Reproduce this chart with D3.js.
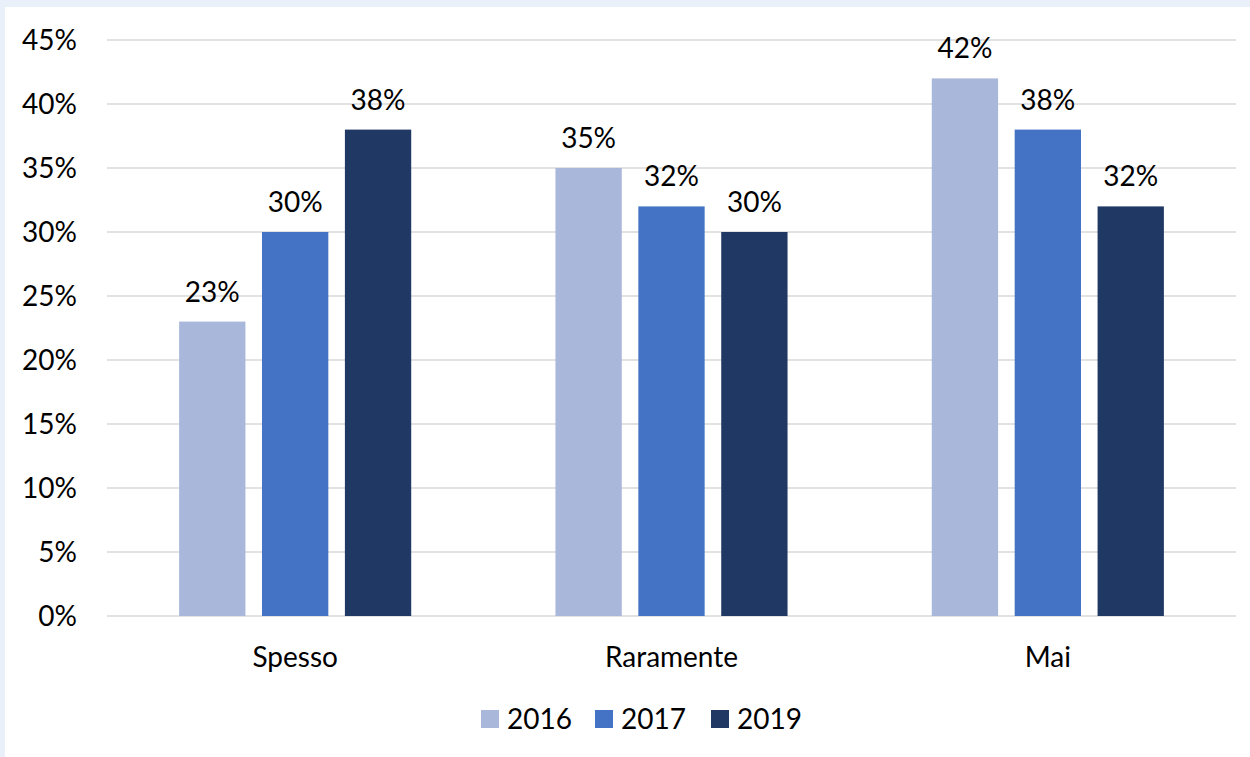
<!DOCTYPE html>
<meta charset="utf-8">
<script src="https://d3js.org/d3.v7.min.js"></script>
<style>
body { margin: 0; padding: 0; background: #e9f0fa; }
text { font-family: Lato, 'Open Sans', sans-serif; fill: #000; }
</style>
<body>
<div id="my_dataviz"></div>
<script>
// data
var categories = ["Spesso", "Raramente", "Mai"];
var years = ["2016", "2017", "2019"];
var values2016 = [23, 35, 42];
var values2017 = [30, 32, 38];
var values2019 = [38, 30, 32];
var yTicks = [0, 5, 10, 15, 20, 25, 30, 35, 40, 45];
var colors = ["#a9b7da", "#4472c4", "#203864"];

var series = [values2016, values2017, values2019];

var W = 1250, H = 757;
var fontSize = "28px";
var svg = d3.select("#my_dataviz")
  .append("svg")
    .attr("width", W)
    .attr("height", H)
    .style("display", "block");

// white chart panel, leaving the light blue edge at top/left
svg.append("rect")
  .attr("x", 5).attr("y", 7)
  .attr("width", W - 5).attr("height", H - 7)
  .attr("fill", "#fff");

var plotLeft = 107, plotRight = 1236, plotTop = 40, plotBottom = 616;

var x = d3.scaleBand()
  .domain(categories)
  .range([plotLeft, plotRight])
  .paddingInner(0)
  .paddingOuter(0);

var xSub = d3.scaleBand()
  .domain(years)
  .range([0, x.bandwidth()])
  .paddingInner(0.2)
  .paddingOuter(0.87);

var y = d3.scaleLinear()
  .domain([0, 45])
  .range([plotBottom, plotTop]);

// gridlines
svg.append("g")
  .selectAll("line")
  .data(yTicks)
  .enter()
  .append("line")
    .attr("x1", plotLeft)
    .attr("x2", plotRight)
    .attr("y1", function(d){ return y(d); })
    .attr("y2", function(d){ return y(d); })
    .attr("stroke", "#d9d9d9")
    .attr("stroke-width", 1.5);

// y tick labels
svg.append("g")
  .selectAll("text")
  .data(yTicks)
  .enter()
  .append("text")
    .attr("x", 77)
    .attr("y", function(d){ return y(d); })
    .attr("dy", "0.35em")
    .attr("text-anchor", "end")
    .style("font-size", fontSize)
    .text(function(d){ return d + "%"; });

// bars
years.forEach(function(yr, i) {
  var g = svg.append("g");
  g.selectAll("rect")
    .data(series[i])
    .enter()
    .append("rect")
      .attr("x", function(d, j){ return x(categories[j]) + xSub(yr); })
      .attr("y", function(d){ return y(d); })
      .attr("width", xSub.bandwidth())
      .attr("height", function(d){ return y(0) - y(d); })
      .attr("fill", colors[i]);
  g.selectAll("text")
    .data(series[i])
    .enter()
    .append("text")
      .attr("x", function(d, j){ return x(categories[j]) + xSub(yr) + xSub.bandwidth() / 2; })
      .attr("y", function(d){ return y(d) - 20; })
      .attr("text-anchor", "middle")
      .style("font-size", fontSize)
      .text(function(d){ return d + "%"; });
});

// category labels
svg.append("g")
  .selectAll("text")
  .data(categories)
  .enter()
  .append("text")
    .attr("x", function(d){ return x(d) + x.bandwidth() / 2; })
    .attr("y", 667)
    .attr("text-anchor", "middle")
    .style("font-size", fontSize)
    .text(function(d){ return d; });

// legend
var legendX = [481, 595, 711];
var legend = svg.append("g");
years.forEach(function(yr, i) {
  legend.append("rect")
    .attr("x", legendX[i]).attr("y", 710)
    .attr("width", 18).attr("height", 18)
    .attr("fill", colors[i]);
  legend.append("text")
    .attr("x", legendX[i] + 26)
    .attr("y", 719)
    .attr("dy", "0.35em")
    .style("font-size", fontSize)
    .text(yr);
});
</script>
</body>
